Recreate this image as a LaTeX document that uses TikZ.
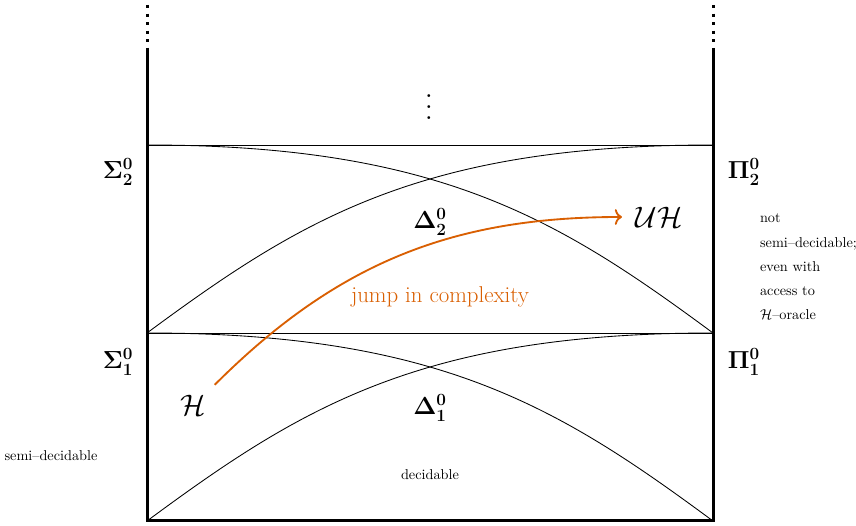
\documentclass[tikz,border=0pt]{standalone}
\usepackage{amsmath,amssymb,bm}
\usetikzlibrary{arrows.meta,positioning,calc}
\definecolor{jumporange}{RGB}{217,95,2}
\tikzset{
    borderline/.style={line width=2.1pt},
    borderdots/.style={line width=2.1pt, dash pattern=on 2.1pt off 3.9pt},
    levelline/.style={line width=0.6pt},
    classlabel/.style={font=\LARGE},
    problemlabel/.style={font=\fontsize{22}{26}\selectfont},
    notelabel/.style={font=\normalsize, align=left},
    jumplabel/.style={font=\fontsize{16}{19}\selectfont, text=jumporange},
    jumparrow/.style={-{To[length=5pt,width=11pt]}, line width=1.3pt, draw=jumporange}
}
\begin{document}
\begin{tikzpicture}[x=0.7pt, y=0.7pt]
    \useasboundingbox (0,0) rectangle (856,526);
    \coordinate (bl) at (147,5);
    \coordinate (br) at (713,5);
    \coordinate (ml) at (147,193);
    \coordinate (mr) at (713,193);
    \coordinate (tl) at (147,381);
    \coordinate (tr) at (713,381);
    \coordinate (lend) at (147,478);
    \coordinate (rend) at (713,478);
    \coordinate (ltop) at (147,521);
    \coordinate (rtop) at (713,521);

    % hierarchy frame
    \draw[borderline] (lend) -- (bl) -- (br) -- (rend);
    \draw[borderdots] (ltop) -- (lend);
    \draw[borderdots] (rtop) -- (rend);
    \draw[levelline] (ml) -- (mr);
    \draw[levelline] (tl) -- (tr);

    % level 2
    \draw[levelline] (tl) .. controls (440,381) and (560,306) .. (mr);
    \draw[levelline] (ml) .. controls (300,306) and (420,381) .. (tr);
    % level 1
    \draw[levelline] (ml) .. controls (440,193) and (560,118) .. (br);
    \draw[levelline] (bl) .. controls (300,118) and (420,193) .. (mr);

    \node[classlabel] (sigma2) at (118,354) {$\bm{\Sigma^0_2}$};
    \node[classlabel] (sigma1) at (118,164) {$\bm{\Sigma^0_1}$};
    \node[classlabel] (pi2) at (744,354) {$\bm{\Pi^0_2}$};
    \node[classlabel] (pi1) at (744,164) {$\bm{\Pi^0_1}$};
    \node[classlabel] (delta2) at (430,304) {$\bm{\Delta^0_2}$};
    \node[classlabel] (delta1) at (430,118) {$\bm{\Delta^0_1}$};
    \node[scale=1.9] (higher) at (429,427) {$\vdots$};

    \node[problemlabel] (H) at (193,121) {$\mathcal{H}$};
    \node[problemlabel] (UH) at (659,309) {$\mathcal{U}\mathcal{H}$};

    \node[notelabel] (semidec) at (51,70) {semi--decidable};
    \node[notelabel] (dec) at (430,51) {decidable};
    \node[notelabel, anchor=north west, font={\fontsize{10}{17}\selectfont}] (oraclenote) at (755,317)
        {not\\semi--decidable;\\even with\\access to\\$\mathcal{H}$--oracle};

    \draw[jumparrow, shorten >=6pt] ($(H.north east)+(4,5)$) to[out=45, in=180] (UH.west);
    \node[jumplabel] (jumplbl) at (440,229) {jump in complexity};
\end{tikzpicture}
\end{document}
